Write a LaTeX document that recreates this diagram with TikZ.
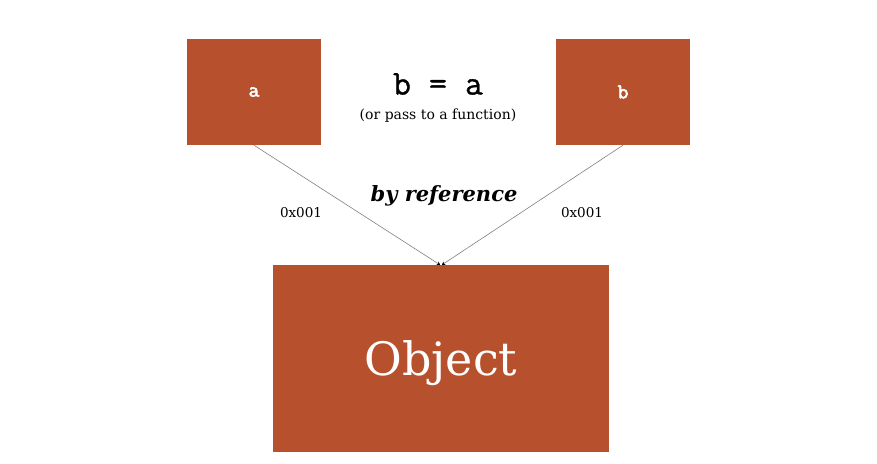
\documentclass[tikz,border=0pt]{standalone}
\usepackage{fontspec}
\setmainfont{DejaVu Serif}
\newfontfamily\varfont[FakeBold=3]{Latin Modern Mono}
\newfontfamily\codefont[FakeBold=1]{Latin Modern Mono}
\usetikzlibrary{arrows.meta,positioning}
\definecolor{rust}{HTML}{B7512D}

\begin{document}
\begin{tikzpicture}[x=1pt,y=-1pt,
  box/.style={fill=rust, text=white, inner sep=0pt},
  var/.style={box, minimum width=134pt, minimum height=106pt, font=\varfont\fontsize{21}{23}\selectfont},
  link/.style={draw=gray, line width=0.6pt, -{Stealth[length=3pt,width=4pt,black]}},
  addr/.style={font=\fontsize{13.5}{15}\selectfont}]
  \useasboundingbox (0,0) rectangle (877,463);
  \node[var] (vara) at (254,92) {a};
  \node[var] (varb) at (623,92) {b};
  \node[box, minimum width=336pt, minimum height=187pt, text depth=0pt, font=\fontsize{46}{50}\selectfont] (obj) at (441,358.5) {Object};
  \node[font=\codefont\fontsize{35}{38}\selectfont] (assign) at (438,84) {b = a};
  \node[font=\fontsize{14}{16}\selectfont] (note) at (438,116) {(or pass to a function)};
  \node[font=\bfseries\itshape\fontsize{21}{24}\selectfont] (byref) at (444,196) {by reference};
  \draw[link] (vara.south) -- ([xshift=-1pt]obj.north);
  \draw[link] (varb.south) -- ([xshift=1pt]obj.north);
  \node[addr] (addra) at (301,213) {0x001};
  \node[addr] (addrb) at (582,213) {0x001};
\end{tikzpicture}
\end{document}
